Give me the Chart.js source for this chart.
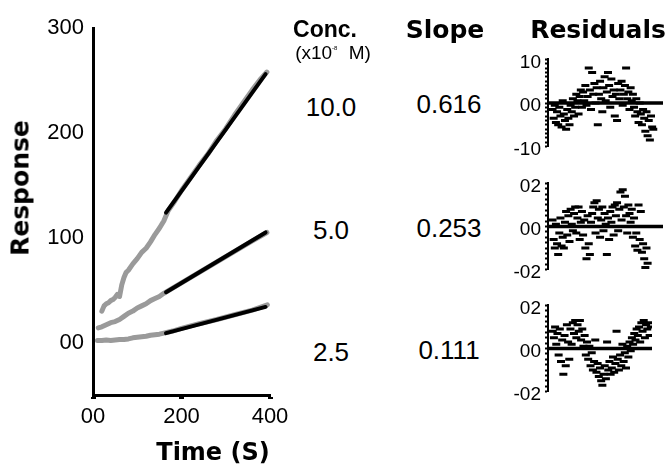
<!DOCTYPE html>
<html>
<head>
<meta charset="utf-8">
<script src="https://cdn.jsdelivr.net/npm/chart.js@4.4.1/dist/chart.umd.min.js"></script>
<style>
  body { margin: 0; background: #fff; }
  #wrap { position: relative; width: 670px; height: 467px; overflow: hidden; }
  canvas { position: absolute; }
  .t { position: absolute; transform: translate(-50%, -50%); line-height: 1; white-space: nowrap; color: #000; font-family: "DejaVu Sans", sans-serif; }
  .head { font-weight: bold; font-size: 25px; }
  .val { font-family: "Liberation Sans", Arial, sans-serif; font-size: 26px; }
  sup { font-size: 6px; vertical-align: 9px; margin-right: 6px; }
</style>
</head>
<body>
<div id="wrap">
  <canvas id="mainChart" width="300" height="467" style="left:0;top:0"></canvas>
  <canvas id="resid1" width="175" height="118" style="left:495px;top:44px"></canvas>
  <canvas id="resid2" width="175" height="117" style="left:495px;top:168px"></canvas>
  <canvas id="resid3" width="175" height="117" style="left:495px;top:290px"></canvas>

  <div class="t head" style="left:20px;top:188px;transform:translate(-50%,-50%) rotate(-90deg)">Response</div>
  <div class="t head" style="left:213px;top:452px;font-size:24px">Time (S)</div>

  <div class="t head" style="left:325px;top:29px;font-family:'Liberation Sans',sans-serif;font-size:23px">Conc.</div>
  <div class="t" style="left:333px;top:52px;font-family:'Liberation Sans',sans-serif;font-size:19px">(x10<sup>-8</sup> M)</div>
  <div class="t head" style="left:445px;top:29px">Slope</div>
  <div class="t head" style="left:598px;top:29px">Residuals</div>
</div>

<script>
// main panel: grey raw traces
const timeTop = [20, 25, 30, 35, 40, 45, 50, 55, 60, 65, 70, 75, 80, 90, 100, 110, 120, 130, 140, 150, 160, 170, 185, 200, 220, 240, 260, 280, 300, 320, 340, 360, 380, 393];
const respTop = [30, 35, 37, 38, 40, 41, 43, 46, 44, 55, 62, 67, 69, 75, 80, 86, 90, 96, 103, 109, 116, 126, 135, 145, 157, 169, 180, 193, 204, 217, 229, 241, 252, 258];

const timeMid = [12, 20, 30, 40, 50, 60, 70, 80, 90, 100, 110, 120, 130, 140, 150, 160, 180, 200, 240, 280, 320, 360, 393];
const respMid = [14, 15, 17, 19, 20, 22, 25, 28, 30, 33, 35, 37, 40, 42, 44, 47, 52, 57, 67, 77, 87, 97, 105];

const timeLow = [10, 20, 30, 40, 50, 60, 70, 80, 90, 100, 110, 120, 130, 140, 150, 160, 180, 200, 240, 280, 320, 360, 394];
const respLow = [2, 2, 2.5, 2, 2.5, 3, 3, 3.5, 4.5, 5, 5.5, 6, 7, 7.5, 8, 9, 11, 13.5, 18, 22, 26.5, 31, 36];

// black linear fits
const fitTime = [165, 390];
const fitTop = [124, 256];
const fitMid = [48, 105];
const fitLow = [9, 34];

const concLabels = ["10.0", "5.0", "2.5"];
const slopeLabels = ["0.616", "0.253", "0.111"];

const mainXTicks = [0, 200, 400];
const mainXLabels = ["00", "200", "400"];
const mainYTicks = [0, 100, 200, 300];
const mainYLabels = ["00", "100", "200", "300"];

// residuals, one value per sample in time order
const resid1 = [
    -1.5, -3.5, -0.5, -4.5, -2, -5, -1, -3, -5.5, 0.5,
    -2.5, -4, -6, -1.5, -3.5, -5, -0.5, -2, 1, -3,
    -1, 2, 0.5, -2.5, 1.5, 3, -1, 2.5, 0.5, 4,
    -0.5, 1.5, 8, 3, -1.5, 7, 2, 4.5, 0, 3.5,
    -5, 2, 5, 1, -2, 3.5, 6, 0.5, 2.5, 7,
    4, -1, 5.5, 1.5, 3, -3, 2, -4, 4.5, 1,
    3, 5, -0.5, 2, 4, 8, 1, 2.5, -1.5, 3.5,
    0.5, 2, -1, -3, 1, -2, -4.5, 0, -2.5, -5,
    -1.5, -3.5, -6.5, -2, -7.5, -4, -8.5, -3, -5.5, -6
];
const resid2 = [
    0.3, -0.6, -1.0, 0.1, -0.8, -1.3, -0.3, 0.4, -0.9, -0.5,
    -1.0, 0.2, 0.7, -0.4, 0.5, -0.7, 0.8, 0.1, -0.2, 0.6,
    0.9, -0.3, 0.4, 0.9, -0.6, 0.2, 0.7, -0.4, 0.3, -1.0,
    -1.5, 0.5, -0.8, -1.3, 0.2, 0.6, 0.9, 1.1, -0.3, 1.2,
    0.4, 0.8, -0.5, 0.3, 0.9, -0.2, 0.6, 0.1, -1.3, 0.4,
    -0.6, 0.7, 0.2, 0.9, -0.4, 1.0, 0.5, 1.1, -0.2, 0.8,
    1.6, 0.3, 1.7, 0.9, 1.4, 0.5, -0.3, 1.0, 0.6, 0.2,
    0.8, -0.5, 0.4, -0.9, -0.3, -1.1, 1.0, -0.6, 0.7, -1.2,
    -0.8, -1.5, -1.9, -1.0, -1.7
];
const resid3 = [
    0.8, 0.5, 1.0, 0.2, 0.7, -0.3, 0.9, -0.6, 0.4, -1.2,
    0.6, -0.8, 1.1, 0.3, -0.5, 0.9, 0.2, 1.2, 0.7, 1.3,
    0.5, 1.1, 0.8, 1.3, 0.4, 0.9, 0.1, 0.6, -0.3, 0.3,
    -0.5, 0.1, -0.8, -0.2, -1.0, -0.6, 0.4, -1.1, -0.7, -1.3,
    -0.9, -1.5, -1.7, -1.2, -0.8, -1.4, 0.3, -1.0, -0.6, -1.2,
    -0.9, -0.4, -1.1, -0.7, 0.8, -0.5, -1.0, -0.3, -0.8, 0.2,
    -0.6, -0.2, -0.9, 0.1, -0.4, 0.3, -0.1, 0.5, 0.2, 0.7,
    0.4, 0.9, 0.6, 1.0, 0.3, 1.2, 0.8, 1.3, 0.5, 1.1,
    0.9, 1.2, 0.6, 1.0
];

const resid1Ticks = [-10, 0, 10];
const resid1Labels = ["-10", "00", "10"];
const resid23Ticks = [-2, 0, 2];
const resid23Labels = ["-02", "00", "02"];

const tickFont = { family: "'Liberation Sans Narrow', 'Liberation Sans', sans-serif", size: 22 };
const pairs = (xs, ys) => xs.map((x, i) => ({ x: x, y: ys[i] }));

const rawSet = (xs, ys) => ({
    data: pairs(xs, ys),
    order: 2,
    showLine: true,
    borderColor: "#9a9a9a",
    borderWidth: 5,
    borderCapStyle: "round",
    borderJoinStyle: "round",
    pointRadius: 0,
});
const fitSet = (ys) => ({
    data: pairs(fitTime, ys),
    order: 1,
    showLine: true,
    borderColor: "#000",
    borderWidth: 4,
    borderCapStyle: "round",
    pointRadius: 0,
});

new Chart(document.getElementById("mainChart"), {
    type: "scatter",
    data: {
        datasets: [
            rawSet(timeTop, respTop),
            rawSet(timeMid, respMid),
            rawSet(timeLow, respLow),
            fitSet(fitTop),
            fitSet(fitMid),
            fitSet(fitLow),
        ],
    },
    options: {
        responsive: false,
        animation: false,
        layout: { padding: { top: 28, right: 30, left: 0, bottom: 0 } },
        plugins: { legend: { display: false }, tooltip: { enabled: false } },
        scales: {
            x: {
                type: "linear",
                min: 0,
                max: 400,
                afterBuildTicks: (s) => { s.ticks = mainXTicks.map((v) => ({ value: v })); },
                afterFit: (s) => { s.height = 72; },
                ticks: {
                    callback: (v, i) => mainXLabels[i],
                    font: tickFont,
                    color: "#000",
                    padding: 5,
                    maxRotation: 0,
                    autoSkip: false,
                },
                grid: { drawOnChartArea: false, tickLength: 4, tickWidth: 5, tickColor: "#000" },
                border: { color: "#000", width: 3 },
            },
            y: {
                min: -50,
                max: 300,
                afterBuildTicks: (s) => { s.ticks = mainYTicks.map((v) => ({ value: v })); },
                afterFit: (s) => { s.width = 93; },
                ticks: {
                    callback: (v, i) => mainYLabels[i],
                    font: tickFont,
                    color: "#000",
                    padding: 9,
                    autoSkip: false,
                },
                grid: { display: false, drawTicks: false },
                border: { color: "#000", width: 3 },
            },
        },
    },
});

// residual panels
function residualChart(id, values, lim, minorStep, tickVals, tickLabels, xMax, padRight) {
    const minor = [];
    const n = Math.round((2 * lim) / minorStep);
    for (let k = 0; k <= n; k++) minor.push({ value: -lim + k * minorStep });

    return new Chart(document.getElementById(id), {
        type: "scatter",
        data: {
            datasets: [
                {
                    data: values.map((v, i) => ({ x: i, y: v })),
                    order: 2,
                    pointStyle: "line",
                    pointRadius: 4,
                    pointBorderWidth: 3,
                    borderWidth: 3,
                    borderColor: "#000",
                    backgroundColor: "#000",
                },
                {
                    data: [{ x: -4, y: 0 }, { x: xMax, y: 0 }],
                    order: 1,
                    showLine: true,
                    borderColor: "#000",
                    borderWidth: 3.5,
                    pointRadius: 0,
                },
            ],
        },
        options: {
            responsive: false,
            animation: false,
            layout: { padding: { top: 14, right: padRight, left: 0, bottom: 12 } },
            plugins: { legend: { display: false }, tooltip: { enabled: false } },
            scales: {
                x: { type: "linear", min: -4, max: xMax, display: false },
                y: {
                    min: -lim,
                    max: lim,
                    afterBuildTicks: (s) => { s.ticks = minor.slice(); },
                    afterFit: (s) => { s.width = 53; },
                    ticks: {
                        autoSkip: false,
                        font: { family: "'Liberation Sans', sans-serif", size: 19 },
                        color: "#000",
                        padding: 4,
                        labelOffset: 3,
                        callback: (v) => {
                            const j = tickVals.findIndex((t) => Math.abs(t - v) < 1e-6);
                            return j >= 0 ? tickLabels[j] : "";
                        },
                    },
                    grid: { drawOnChartArea: false, tickLength: 3, tickWidth: 2, tickColor: "#000" },
                    border: { color: "#000", width: 2 },
                },
            },
        },
    });
}

residualChart("resid1", resid1, 10, 1, resid1Ticks, resid1Labels, 97.6, 2);
residualChart("resid2", resid2, 2, 0.25, resid23Ticks, resid23Labels, 97.6, 2);
residualChart("resid3", resid3, 2, 0.25, resid23Ticks, resid23Labels, 84, 18);

// concentration and slope columns
const wrap = document.getElementById("wrap");
const concY = [107, 230, 352];
const slopeY = [104, 228, 350];
concLabels.forEach((txt, i) => {
    const c = document.createElement("div");
    c.className = "t val";
    c.style.left = "331px";
    c.style.top = concY[i] + "px";
    c.textContent = txt;
    wrap.appendChild(c);

    const s = document.createElement("div");
    s.className = "t val";
    s.style.left = "449px";
    s.style.top = slopeY[i] + "px";
    s.textContent = slopeLabels[i];
    wrap.appendChild(s);
});
</script>
</body>
</html>
